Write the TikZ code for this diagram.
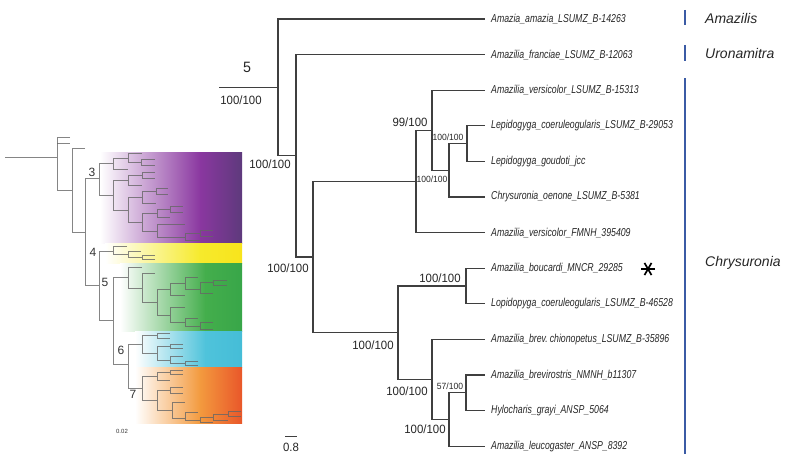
\documentclass[tikz,border=0pt]{standalone}
\usepackage{fontspec}
\setmainfont{Liberation Sans}
\newfontfamily\tipfont{Liberation Sans}[FakeStretch=0.76]
\newfontfamily\supfont{Liberation Sans}[FakeStretch=0.95]
\definecolor{treegray}{HTML}{3F3F3F}
\definecolor{cladeblue}{HTML}{3B5BA5}
\definecolor{purpA}{HTML}{8A37A0}
\definecolor{purpB}{HTML}{5E3A7C}
\definecolor{yellA}{HTML}{F6EA2C}
\definecolor{yellB}{HTML}{F8E41C}
\definecolor{greenA}{HTML}{44AE4C}
\definecolor{greenB}{HTML}{38A649}
\definecolor{cyanA}{HTML}{4FC3DB}
\definecolor{cyanB}{HTML}{45BDD7}
\definecolor{orA}{HTML}{F39A3E}
\definecolor{orB}{HTML}{E9572A}
\newcommand{\lnd}[5]{\draw[ltree] (#3,#2) -- (#1,#2) -- (#1,#4) -- (#5,#4);}
\tikzset{
  branch/.style={draw=treegray, line width=1.1pt, line cap=rect},
  ltree/.style={draw=black!60, line width=0.5pt, opacity=0.8},
  tiplab/.style={anchor=west, inner sep=0pt, font=\tipfont\itshape\fontsize{11.5}{13}\selectfont, text=black!85},
  suplab/.style={inner sep=0pt, font=\supfont\fontsize{12}{14}\selectfont, text=black!85},
  supsm/.style={inner sep=0pt, font=\supfont\fontsize{9}{10}\selectfont, text=black!85},
  cladelab/.style={anchor=west, inner sep=0pt, font=\itshape\fontsize{14}{16}\selectfont, text=black!85},
  grplab/.style={inner sep=0pt, font=\fontsize{12}{14}\selectfont, text=black!80},
  cbar/.style={draw=cladeblue, line width=2.4pt},
}
\begin{document}
\begin{tikzpicture}[x=1pt, y=-1pt]
\useasboundingbox (0,0) rectangle (792,460);
% ---------- colour bands ----------
\shade[left color=white, right color=purpA] (100,152) rectangle (200.5,243.5);
\shade[left color=purpA, right color=purpB] (200,152) rectangle (242,243.5);
\shade[left color=white, right color=yellA] (105,243.5) rectangle (200.5,263.5);
\shade[left color=yellA, right color=yellB] (200,243.5) rectangle (242,263.5);
\shade[left color=white, right color=greenA] (120,263.5) rectangle (205.5,331);
\shade[left color=greenA, right color=greenB] (205,263.5) rectangle (242,331);
\shade[left color=white, right color=cyanA] (135,331) rectangle (205.5,367);
\shade[left color=cyanA, right color=cyanB] (205,331) rectangle (242,367);
\shade[left color=white, right color=orA] (135,367) rectangle (200.5,423);
\shade[left color=orA, right color=orB] (200,367) rectangle (242,423);
% ---------- small tree ----------
\draw[ltree] (5,157) -- (57,157);
\lnd{57}{137}{70}{190}{72}
\draw[ltree] (57,143) -- (70,143);
\lnd{72}{148}{85}{232}{85}
\lnd{85}{178}{99}{285}{99}
% clade 3
\lnd{99}{163}{113}{195}{113}
\lnd{113}{158}{128}{169}{128}
\lnd{128}{153}{142}{162}{141}
\lnd{141}{159}{155}{165}{155}
\lnd{113}{180}{128}{210}{128}
\lnd{128}{175}{142}{185}{142}
\lnd{142}{172}{155}{178}{155}
\lnd{128}{197}{142}{222}{142}
\lnd{142}{191}{156}{203}{156}
\lnd{156}{188}{168}{194}{168}
\lnd{142}{213}{157}{231}{157}
\lnd{157}{209}{170}{217}{170}
\lnd{170}{206}{183}{212}{183}
\lnd{157}{224}{185}{237}{185}
\lnd{185}{233}{200}{240}{200}
\lnd{200}{230}{213}{236}{213}
% clades 4-7
\lnd{99}{251}{113}{320}{113}
\lnd{113}{246}{127}{254}{128}
\lnd{128}{251}{141}{257}{142}
\lnd{142}{255}{155}{259}{155}
\lnd{113}{277}{128}{364}{128}
% clade 5
\lnd{128}{267}{142}{288}{142}
\lnd{142}{273}{155}{302}{157}
\lnd{157}{289}{170}{315}{170}
\lnd{170}{283}{185}{295}{185}
\lnd{185}{277}{198}{289}{200}
\lnd{200}{282}{213}{293}{213}
\lnd{213}{280}{227}{285}{227}
\lnd{170}{307}{185}{322}{185}
\lnd{185}{318}{198}{326}{200}
\lnd{200}{322}{213}{329}{213}
% clades 6-7
\lnd{128}{344}{142}{388}{142}
\lnd{142}{335}{157}{353}{157}
\lnd{157}{333}{170}{338}{170}
\lnd{157}{346}{170}{360}{170}
\lnd{170}{344}{183}{348}{183}
\lnd{170}{356}{183}{363}{185}
\lnd{185}{361}{198}{365}{198}
\lnd{142}{376}{157}{400}{157}
\lnd{157}{372}{170}{380}{170}
\lnd{170}{370}{183}{374}{183}
\lnd{157}{390}{170}{410}{172}
\lnd{170}{387}{183}{393}{183}
\lnd{172}{402}{185}{418}{185}
\lnd{185}{412}{198}{420}{200}
\lnd{200}{417}{213}{422}{213}
\lnd{213}{414}{228}{420}{228}
\lnd{228}{411}{241}{416}{241}
% group numbers
\node[grplab] (g3) at (92,172) {3};
\node[grplab] (g4) at (93,252) {4};
\node[grplab] (g5) at (105,282) {5};
\node[grplab] (g6) at (121,350) {6};
\node[grplab] (g7) at (133,394) {7};
\node[inner sep=0pt, font=\fontsize{6}{7}\selectfont, text=black!80] (sb) at (122,431) {0.02};
% ---------- main tree ----------
\coordinate (root) at (220,87.4);
\coordinate (n1) at (278,87.4);
\coordinate (n2) at (296,155.8);
\coordinate (n3) at (313,257);
\coordinate (n4) at (416,181.4);
\coordinate (n5) at (432,130.3);
\coordinate (n6) at (449,170.3);
\coordinate (n7) at (467,143.6);
\coordinate (n8) at (398,332.7);
\coordinate (n9) at (466,286);
\coordinate (n10) at (432,379.5);
\coordinate (n11) at (449,419.5);
\coordinate (n12) at (466,392.8);
\node[tiplab] (t0) at (491,19) {Amazia\_amazia\_LSUMZ\_B-14263};
\node[tiplab] (t1) at (491,54.6) {Amazilia\_franciae\_LSUMZ\_B-12063};
\node[tiplab] (t2) at (491,90.2) {Amazilia\_versicolor\_LSUMZ\_B-15313};
\node[tiplab] (t3) at (491,125.8) {Lepidogyga\_coeruleogularis\_LSUMZ\_B-29053};
\node[tiplab] (t4) at (491,161.4) {Lepidogyga\_goudoti\_jcc};
\node[tiplab] (t5) at (491,197) {Chrysuronia\_oenone\_LSUMZ\_B-5381};
\node[tiplab] (t6) at (491,232.6) {Amazilia\_versicolor\_FMNH\_395409};
\node[tiplab] (t7) at (491,268.2) {Amazilia\_boucardi\_MNCR\_29285};
\node[tiplab] (t8) at (491,303.8) {Lopidopyga\_coeruleogularis\_LSUMZ\_B-46528};
\node[tiplab] (t9) at (491,339.4) {Amazilia\_brev.\,chionopetus\_LSUMZ\_B-35896};
\node[tiplab] (t10) at (491,375) {Amazilia\_brevirostris\_NMNH\_b11307};
\node[tiplab] (t11) at (491,410.6) {Hylocharis\_grayi\_ANSP\_5064};
\node[tiplab] (t12) at (491,446.2) {Amazilia\_leucogaster\_ANSP\_8392};
\draw[branch] (root) -- (n1);
\draw[branch] (n1) |- ([xshift=-7pt]t0.west);
\draw[branch] (n1) |- (n2);
\draw[branch] (n2) |- ([xshift=-7pt]t1.west);
\draw[branch] (n2) |- (n3);
\draw[branch] (n3) |- (n4);
\draw[branch] (n3) |- (n8);
\draw[branch] (n4) |- (n5);
\draw[branch] (n4) |- ([xshift=-7pt]t6.west);
\draw[branch] (n5) |- ([xshift=-7pt]t2.west);
\draw[branch] (n5) |- (n6);
\draw[branch] (n6) |- (n7);
\draw[branch] (n6) |- ([xshift=-7pt]t5.west);
\draw[branch] (n7) |- ([xshift=-7pt]t3.west);
\draw[branch] (n7) |- ([xshift=-7pt]t4.west);
\draw[branch] (n8) |- (n9);
\draw[branch] (n8) |- (n10);
\draw[branch] (n9) |- ([xshift=-7pt]t7.west);
\draw[branch] (n9) |- ([xshift=-7pt]t8.west);
\draw[branch] (n10) |- ([xshift=-7pt]t9.west);
\draw[branch] (n10) |- (n11);
\draw[branch] (n11) |- (n12);
\draw[branch] (n11) |- ([xshift=-7pt]t12.west);
\draw[branch] (n12) |- ([xshift=-7pt]t10.west);
\draw[branch] (n12) |- ([xshift=-7pt]t11.west);
% support values
\node[suplab, font=\supfont\fontsize{15}{17}\selectfont] (s0) at (247,67) {5};
\node[suplab] (s1) at (241,100) {100/100};
\node[suplab] (s2) at (270,164) {100/100};
\node[suplab] (s3) at (410,122) {99/100};
\node[supsm] (s4) at (448,137) {100/100};
\node[supsm] (s5) at (432,179) {100/100};
\node[suplab] (s6) at (288,268) {100/100};
\node[suplab] (s7) at (373,345) {100/100};
\node[suplab] (s8) at (440,278) {100/100};
\node[suplab] (s9) at (407,391) {100/100};
\node[supsm] (s10) at (450,386) {57/100};
\node[suplab] (s11) at (425,429) {100/100};
% scale bar
\node[suplab] (sc) at (291,447) {0.8};
\draw[treegray, line width=0.8pt] (285,436.5) -- (297,436.5);
% asterisk
\coordinate (ast) at (648,269);
\foreach \a in {0,60,120} \draw[black, line width=1.7pt] (ast) ++(\a:7) -- ++(\a+180:14);
% clade bars and names
\draw[cbar] (685,10) -- (685,25);
\draw[cbar] (685,45) -- (685,61);
\draw[cbar] (685,78) -- (685,454);
\node[cladelab] (c1) at (705,18) {Amazilis};
\node[cladelab] (c2) at (705,53) {Uronamitra};
\node[cladelab] (c3) at (705,263) {Chrysuronia};
\end{tikzpicture}
\end{document}
